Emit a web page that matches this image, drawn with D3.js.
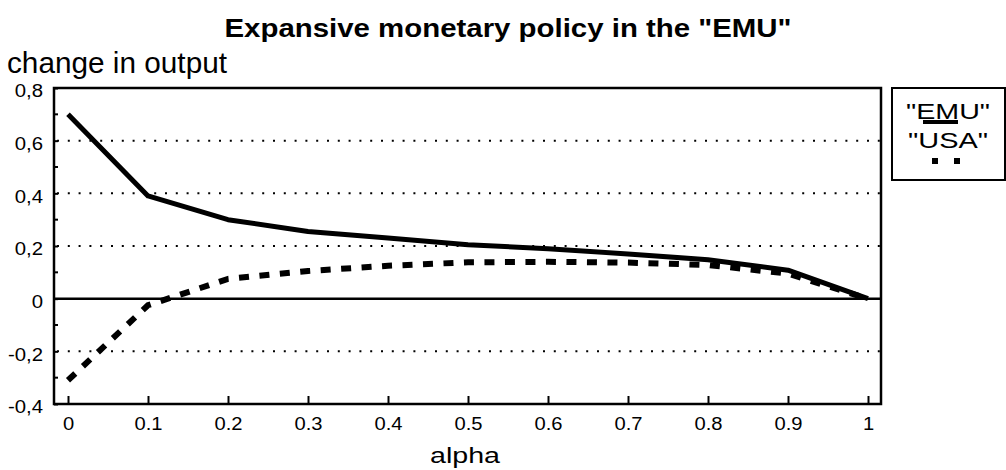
<!DOCTYPE html>
<html>
<head>
<meta charset="utf-8">
<script src="https://cdn.jsdelivr.net/npm/d3@7"></script>
<style>
  body { margin: 0; background: #fff; overflow: hidden; }
  text { font-family: "Liberation Sans", Arial, sans-serif; fill: #000; }
</style>
</head>
<body>
<div id="chart"></div>
<script>
// Data
const alphaValues = [0, 0.1, 0.2, 0.3, 0.4, 0.5, 0.6, 0.7, 0.8, 0.9, 1];
const emuValues = [0.70, 0.39, 0.30, 0.255, 0.23, 0.205, 0.19, 0.17, 0.148, 0.108, 0];
const usaValues = [-0.31, -0.025, 0.075, 0.105, 0.125, 0.138, 0.14, 0.137, 0.128, 0.095, 0];
const yTickValues = [-0.4, -0.2, 0, 0.2, 0.4, 0.6, 0.8];
const yMinorValues = [-0.3, -0.1, 0.1, 0.3, 0.5, 0.7];
const gridValues = [-0.2, 0.2, 0.4, 0.6];
const seriesNames = ['"EMU"', '"USA"'];

const width = 1006;
const height = 470;
const plot = { left: 54, right: 881, top: 88, bottom: 404 };

const svg = d3.select("#chart").append("svg")
    .attr("width", width)
    .attr("height", height);

const xScale = d3.scaleLinear().domain([0, 1]).range([68, 868]);
const yScale = d3.scaleLinear().domain([-0.4, 0.8]).range([plot.bottom, plot.top]);

// stretch text horizontally to match the wide lettering of the original
function stretch(sel, factor) {
    sel.each(function () {
        const w = this.getComputedTextLength();
        d3.select(this).attr("textLength", w * factor).attr("lengthAdjust", "spacingAndGlyphs");
    });
}

// Title
svg.append("text")
    .attr("x", 508)
    .attr("y", 37)
    .attr("text-anchor", "middle")
    .style("font-size", "26px")
    .style("font-weight", "bold")
    .attr("textLength", 567)
    .attr("lengthAdjust", "spacingAndGlyphs")
    .text('Expansive monetary policy in the "EMU"');

// y axis title
svg.append("text")
    .attr("x", 7)
    .attr("y", 73)
    .style("font-size", "29px")
    .attr("textLength", 220)
    .attr("lengthAdjust", "spacingAndGlyphs")
    .text("change in output");

// dotted grid lines
svg.selectAll(".grid")
    .data(gridValues)
    .enter().append("line")
    .attr("class", "grid")
    .attr("x1", plot.left + 3)
    .attr("x2", plot.right)
    .attr("y1", d => yScale(d))
    .attr("y2", d => yScale(d))
    .attr("stroke", "#000")
    .attr("stroke-width", 2)
    .attr("stroke-dasharray", "2,8.8");

// zero line
svg.append("line")
    .attr("x1", plot.left)
    .attr("x2", plot.right)
    .attr("y1", yScale(0))
    .attr("y2", yScale(0))
    .attr("stroke", "#000")
    .attr("stroke-width", 2.5);

// y axis with inward ticks
const yAxis = d3.axisLeft(yScale)
    .tickValues(yTickValues)
    .tickSize(-4)
    .tickPadding(11)
    .tickFormat(d => d === 0 ? "0" : d.toFixed(1).replace(".", ","));
const gy = svg.append("g")
    .attr("transform", `translate(${plot.left},0)`)
    .call(yAxis);
gy.select(".domain").remove();
gy.selectAll(".tick line").attr("stroke-width", 2);
gy.selectAll(".tick text")
    .attr("dy", "0.72em")
    .attr("y", -4)
    .style("font-size", "18px")
    .style("font-family", '"Liberation Sans", Arial, sans-serif');
stretch(gy.selectAll(".tick text"), 1.13);

svg.selectAll(".yminor")
    .data(yMinorValues)
    .enter().append("line")
    .attr("class", "yminor")
    .attr("x1", plot.left)
    .attr("x2", plot.left + 4)
    .attr("y1", d => yScale(d))
    .attr("y2", d => yScale(d))
    .attr("stroke", "#000")
    .attr("stroke-width", 2);

// x axis with upward ticks
const xAxis = d3.axisBottom(xScale)
    .tickValues(alphaValues)
    .tickSize(-8)
    .tickPadding(13)
    .tickFormat(d => String(d));
const gx = svg.append("g")
    .attr("transform", `translate(0,${plot.bottom})`)
    .call(xAxis);
gx.select(".domain").remove();
gx.selectAll(".tick line").attr("stroke-width", 2);
gx.selectAll(".tick text")
    .style("font-size", "18px")
    .style("font-family", '"Liberation Sans", Arial, sans-serif');
stretch(gx.selectAll(".tick text"), 1.12);

// x axis title
const xTitle = svg.append("text")
    .attr("x", 465)
    .attr("y", 463)
    .attr("text-anchor", "middle")
    .style("font-size", "22px")
    .text("alpha");
stretch(xTitle, 1.3);

// plot frame
svg.append("rect")
    .attr("x", plot.left)
    .attr("y", plot.top)
    .attr("width", plot.right - plot.left)
    .attr("height", plot.bottom - plot.top)
    .attr("fill", "none")
    .attr("stroke", "#000")
    .attr("stroke-width", 2.5);

// series
const emuData = alphaValues.map((a, i) => ({ alpha: a, value: emuValues[i] }));
const usaData = alphaValues.map((a, i) => ({ alpha: a, value: usaValues[i] }));

const line = d3.line()
    .x(d => xScale(d.alpha))
    .y(d => yScale(d.value));

svg.append("path")
    .datum(usaData)
    .attr("d", line)
    .attr("fill", "none")
    .attr("stroke", "#000")
    .attr("stroke-width", 6)
    .attr("stroke-dasharray", "10,10.5");

svg.append("path")
    .datum(emuData)
    .attr("d", line)
    .attr("fill", "none")
    .attr("stroke", "#000")
    .attr("stroke-width", 5)
    .attr("stroke-linejoin", "round");

// legend
const legend = svg.append("g");
legend.append("rect")
    .attr("x", 892)
    .attr("y", 88)
    .attr("width", 113)
    .attr("height", 92)
    .attr("fill", "#fff")
    .attr("stroke", "#000")
    .attr("stroke-width", 2);

legend.selectAll(".leg")
    .data(seriesNames)
    .enter().append("text")
    .attr("class", "leg")
    .attr("x", (d, i) => i === 0 ? 906 : 908)
    .attr("y", (d, i) => 119 + i * 29)
    .style("font-size", "22px")
    .attr("textLength", (d, i) => i === 0 ? 84 : 80)
    .attr("lengthAdjust", "spacingAndGlyphs")
    .text(d => d);

legend.append("line")
    .attr("x1", 923).attr("x2", 958)
    .attr("y1", 122).attr("y2", 122)
    .attr("stroke", "#000")
    .attr("stroke-width", 4);

legend.append("line")
    .attr("x1", 932).attr("x2", 962)
    .attr("y1", 161).attr("y2", 161)
    .attr("stroke", "#000")
    .attr("stroke-width", 6)
    .attr("stroke-dasharray", "6,16");
</script>
</body>
</html>
